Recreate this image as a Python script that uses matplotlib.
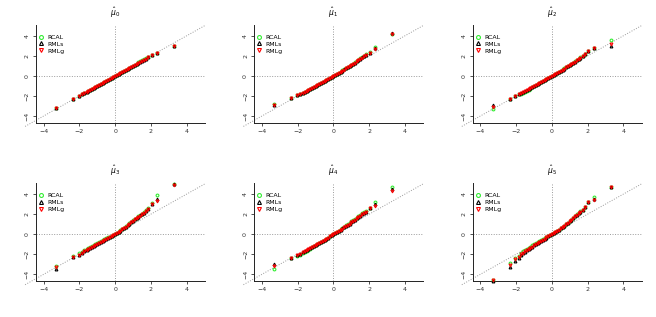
import matplotlib
matplotlib.use("Agg")
import matplotlib.pyplot as plt
import matplotlib.transforms as mtrans

# ---- data ----
x_quant = [-3.3, -2.35, -2.05, -1.85, -1.72, -1.6, -1.5, -1.4, -1.3, -1.2, -1.1, -1.0,
           -0.9, -0.8, -0.7, -0.6, -0.5, -0.4, -0.3, -0.2, -0.1, 0.0, 0.1, 0.2, 0.3, 0.4,
           0.5, 0.6, 0.7, 0.8, 0.9, 1.0, 1.1, 1.2, 1.3, 1.4, 1.5, 1.6, 1.72, 1.85, 2.05,
           2.35, 3.3]

titles = [r"$\hat{\mu}_0$", r"$\hat{\mu}_1$", r"$\hat{\mu}_2$",
          r"$\hat{\mu}_3$", r"$\hat{\mu}_4$", r"$\hat{\mu}_5$"]
series_names = ["RCAL", "RMLs", "RMLg"]

rcal_0 = [-3.16, -2.26, -1.96, -1.79, -1.67, -1.56, -1.46, -1.37, -1.27, -1.17, -1.08, -0.98,
          -0.88, -0.78, -0.69, -0.59, -0.49, -0.39, -0.29, -0.19, -0.10, 0.00, 0.10, 0.20, 0.30, 0.40,
          0.50, 0.61, 0.71, 0.81, 0.92, 1.02, 1.12, 1.23, 1.34, 1.45, 1.55, 1.65, 1.77, 1.88, 2.08,
          2.33, 3.02]
rmls_0 = [-3.19, -2.28, -1.97, -1.80, -1.68, -1.57, -1.47, -1.38, -1.28, -1.18, -1.08, -0.98,
          -0.88, -0.78, -0.69, -0.59, -0.49, -0.39, -0.29, -0.19, -0.10, 0.00, 0.10, 0.19, 0.29, 0.39,
          0.49, 0.59, 0.69, 0.79, 0.89, 0.99, 1.09, 1.19, 1.30, 1.40, 1.50, 1.60, 1.72, 1.85, 2.06,
          2.32, 3.00]
rmlg_0 = [-3.18, -2.27, -1.97, -1.80, -1.68, -1.57, -1.47, -1.38, -1.28, -1.18, -1.08, -0.98,
          -0.88, -0.78, -0.69, -0.59, -0.49, -0.39, -0.29, -0.19, -0.10, 0.00, 0.10, 0.19, 0.29, 0.39,
          0.49, 0.59, 0.69, 0.79, 0.89, 0.99, 1.09, 1.19, 1.29, 1.39, 1.49, 1.59, 1.71, 1.84, 2.05,
          2.31, 2.99]

rcal_1 = [-2.85, -2.18, -1.92, -1.79, -1.69, -1.60, -1.50, -1.41, -1.31, -1.21, -1.11, -1.01,
          -0.91, -0.81, -0.71, -0.61, -0.51, -0.41, -0.31, -0.21, -0.11, 0.00, 0.11, 0.22, 0.32, 0.43,
          0.54, 0.65, 0.76, 0.88, 0.99, 1.11, 1.23, 1.36, 1.49, 1.62, 1.75, 1.89, 2.03, 2.18, 2.38,
          2.92, 4.22]
rmls_1 = [-2.88, -2.20, -1.93, -1.80, -1.70, -1.60, -1.50, -1.41, -1.31, -1.21, -1.11, -1.01,
          -0.91, -0.81, -0.71, -0.61, -0.51, -0.41, -0.31, -0.21, -0.11, 0.00, 0.10, 0.21, 0.31, 0.42,
          0.53, 0.64, 0.75, 0.86, 0.97, 1.08, 1.20, 1.32, 1.45, 1.58, 1.71, 1.84, 1.98, 2.13, 2.33,
          2.78, 4.24]
rmlg_1 = [-2.87, -2.20, -1.93, -1.80, -1.70, -1.60, -1.50, -1.41, -1.31, -1.21, -1.11, -1.01,
          -0.91, -0.81, -0.71, -0.61, -0.51, -0.41, -0.31, -0.21, -0.11, 0.00, 0.10, 0.21, 0.31, 0.42,
          0.52, 0.63, 0.74, 0.85, 0.96, 1.07, 1.19, 1.31, 1.44, 1.57, 1.70, 1.83, 1.97, 2.12, 2.32,
          2.73, 4.20]

rcal_2 = [-3.27, -2.32, -2.02, -1.85, -1.76, -1.66, -1.56, -1.46, -1.36, -1.26, -1.15, -1.05,
          -0.94, -0.84, -0.73, -0.63, -0.52, -0.42, -0.31, -0.21, -0.10, 0.00, 0.10, 0.21, 0.31, 0.42,
          0.53, 0.64, 0.75, 0.86, 0.97, 1.09, 1.21, 1.33, 1.46, 1.59, 1.72, 1.86, 2.02, 2.22, 2.49,
          2.82, 3.58]
rmls_2 = [-2.93, -2.28, -1.99, -1.80, -1.70, -1.60, -1.50, -1.41, -1.31, -1.21, -1.11, -1.01,
          -0.91, -0.81, -0.71, -0.61, -0.51, -0.41, -0.31, -0.21, -0.10, 0.00, 0.10, 0.20, 0.31, 0.41,
          0.52, 0.62, 0.73, 0.84, 0.95, 1.06, 1.17, 1.29, 1.41, 1.54, 1.67, 1.80, 1.96, 2.18, 2.45,
          2.78, 3.00]
rmlg_2 = [-3.10, -2.30, -2.00, -1.80, -1.71, -1.61, -1.51, -1.42, -1.32, -1.22, -1.12, -1.02,
          -0.92, -0.82, -0.72, -0.61, -0.51, -0.41, -0.31, -0.21, -0.10, 0.00, 0.10, 0.20, 0.31, 0.41,
          0.52, 0.62, 0.73, 0.84, 0.95, 1.06, 1.17, 1.29, 1.41, 1.54, 1.67, 1.80, 1.96, 2.18, 2.46,
          2.80, 3.14]

rcal_3 = [-3.13, -2.22, -1.90, -1.80, -1.60, -1.49, -1.39, -1.29, -1.19, -1.08, -0.98, -0.88,
          -0.79, -0.69, -0.59, -0.50, -0.41, -0.32, -0.24, -0.16, -0.07, 0.02, 0.12, 0.24, 0.37, 0.51,
          0.65, 0.79, 0.94, 1.09, 1.24, 1.39, 1.53, 1.66, 1.79, 1.92, 2.05, 2.19, 2.38, 2.58, 3.13,
          3.90, 5.02]
rmls_3 = [-3.47, -2.29, -2.05, -1.88, -1.68, -1.57, -1.47, -1.37, -1.27, -1.16, -1.06, -0.96,
          -0.86, -0.76, -0.66, -0.56, -0.47, -0.37, -0.28, -0.19, -0.09, 0.01, 0.11, 0.23, 0.36, 0.49,
          0.62, 0.76, 0.90, 1.05, 1.20, 1.35, 1.48, 1.61, 1.74, 1.87, 2.00, 2.14, 2.33, 2.53, 3.05,
          3.53, 5.00]
rmlg_3 = [-3.27, -2.27, -2.03, -1.87, -1.67, -1.56, -1.46, -1.36, -1.26, -1.15, -1.05, -0.95,
          -0.85, -0.75, -0.65, -0.55, -0.46, -0.37, -0.28, -0.19, -0.09, 0.01, 0.11, 0.23, 0.36, 0.49,
          0.62, 0.76, 0.90, 1.05, 1.20, 1.35, 1.48, 1.60, 1.73, 1.86, 1.99, 2.13, 2.32, 2.52, 2.97,
          3.33, 4.87]

rcal_4 = [-3.43, -2.36, -2.14, -2.06, -1.88, -1.76, -1.65, -1.54, -1.43, -1.32, -1.21, -1.10,
          -0.99, -0.88, -0.78, -0.67, -0.56, -0.45, -0.34, -0.22, -0.11, 0.00, 0.12, 0.24, 0.36, 0.49,
          0.62, 0.75, 0.88, 1.01, 1.14, 1.27, 1.40, 1.53, 1.66, 1.80, 1.94, 2.08, 2.21, 2.33, 2.62,
          3.23, 4.73]
rmls_4 = [-3.00, -2.33, -2.10, -2.00, -1.81, -1.69, -1.58, -1.48, -1.38, -1.28, -1.17, -1.07,
          -0.97, -0.87, -0.77, -0.66, -0.55, -0.44, -0.33, -0.22, -0.11, 0.00, 0.11, 0.22, 0.34, 0.45,
          0.57, 0.69, 0.81, 0.94, 1.06, 1.19, 1.32, 1.45, 1.58, 1.72, 1.86, 2.00, 2.13, 2.24, 2.58,
          2.97, 4.47]
rmlg_4 = [-3.20, -2.33, -2.10, -2.00, -1.80, -1.68, -1.57, -1.47, -1.37, -1.27, -1.16, -1.06,
          -0.96, -0.86, -0.76, -0.66, -0.55, -0.44, -0.33, -0.22, -0.11, 0.00, 0.11, 0.22, 0.33, 0.45,
          0.56, 0.68, 0.80, 0.93, 1.05, 1.18, 1.31, 1.44, 1.57, 1.71, 1.85, 1.99, 2.12, 2.22, 2.57,
          2.83, 4.33]

rcal_5 = [-4.60, -2.87, -2.37, -2.20, -1.92, -1.72, -1.59, -1.47, -1.35, -1.23, -1.12, -1.01,
          -0.91, -0.81, -0.71, -0.61, -0.51, -0.41, -0.31, -0.21, -0.10, 0.00, 0.11, 0.22, 0.34, 0.46,
          0.59, 0.72, 0.85, 0.99, 1.14, 1.30, 1.46, 1.63, 1.80, 1.97, 2.12, 2.27, 2.45, 2.75, 3.23,
          3.67, 4.72]
rmls_5 = [-4.64, -3.27, -2.67, -2.40, -2.08, -1.86, -1.73, -1.61, -1.49, -1.37, -1.24, -1.12,
          -1.01, -0.89, -0.77, -0.66, -0.55, -0.44, -0.33, -0.22, -0.11, 0.00, 0.11, 0.22, 0.34, 0.46,
          0.58, 0.70, 0.83, 0.97, 1.12, 1.28, 1.44, 1.61, 1.78, 1.95, 2.10, 2.25, 2.42, 2.72, 3.20,
          3.50, 4.73]
rmlg_5 = [-4.62, -3.03, -2.50, -2.30, -2.02, -1.84, -1.71, -1.59, -1.47, -1.35, -1.23, -1.11,
          -1.00, -0.88, -0.76, -0.65, -0.54, -0.43, -0.32, -0.21, -0.11, 0.00, 0.11, 0.22, 0.34, 0.46,
          0.58, 0.70, 0.83, 0.97, 1.12, 1.28, 1.44, 1.61, 1.78, 1.95, 2.10, 2.25, 2.42, 2.70, 3.17,
          3.40, 4.73]

panels = [
    (rcal_0, rmls_0, rmlg_0), (rcal_1, rmls_1, rmlg_1), (rcal_2, rmls_2, rmlg_2),
    (rcal_3, rmls_3, rmlg_3), (rcal_4, rmls_4, rmlg_4), (rcal_5, rmls_5, rmlg_5),
]
tick_vals = [-4, -2, 0, 2, 4]

# ---- figure ----
W, H = 656, 317
fig = plt.figure(figsize=(W / 100, H / 100), dpi=100)

lefts = [36, 254.3, 472.7]
tops = [25, 183.3]
aw, ah = 169, 97.5

styles = [
    dict(marker="o", color="#33ee33", label="RCAL"),
    dict(marker="^", color="black", label="RMLs"),
    dict(marker="v", color="#ff0000", label="RMLg"),
]

for i, (ys, title) in enumerate(zip(panels, titles)):
    r, c = divmod(i, 3)
    l = lefts[c] / W
    b = (H - tops[r] - ah) / H
    ax = fig.add_axes([l, b, aw / W, ah / H])
    ax.set_xlim(-4.43, 5.03)
    ax.set_ylim(-4.65, 5.08)

    # reference lines
    ax.plot([-5.04, 5.04], [-5.04, 5.04], ls=(0, (1, 1.6)), color="#9a9a9a", lw=0.7,
            clip_on=False, zorder=1)
    ax.axhline(0, ls=(0, (1, 1.6)), color="#9a9a9a", lw=0.7, zorder=1)
    ax.axvline(0, ls=(0, (1, 1.6)), color="#9a9a9a", lw=0.7, zorder=1)

    handles = []
    for yv, st in zip(ys, styles):
        h, = ax.plot(x_quant, yv, ls="none", marker=st["marker"], mfc="none",
                     mec=st["color"], ms=2.0, mew=0.8, label=st["label"], zorder=3,
                     clip_on=False)
        handles.append(h)

    for s in ["top", "right"]:
        ax.spines[s].set_visible(False)
    for s in ["left", "bottom"]:
        ax.spines[s].set_linewidth(0.7)
        ax.spines[s].set_color("#222222")
    ax.set_xticks(tick_vals)
    ax.set_yticks(tick_vals)
    ax.set_xticklabels([str(t).replace("-", "\u2212") for t in tick_vals])
    ax.set_yticklabels([str(t).replace("-", "\u2212") for t in tick_vals])
    ax.tick_params(length=2.5, width=0.6, pad=2, labelsize=4.5, colors="#333333")
    ax.tick_params(axis="y", labelrotation=90)
    for lab in ax.get_yticklabels():
        lab.set_va("center")

    trans = mtrans.blended_transform_factory(ax.transData, ax.transAxes)
    ax.annotate(title, xy=(0, 1), xycoords=trans, xytext=(0, 9),
                textcoords="offset points", ha="center", va="center", fontsize=5.5)

    leg = ax.legend(handles=handles, loc="upper left", bbox_to_anchor=(0.0, 0.93),
                    frameon=False, fontsize=4.5, handlelength=0.8, handletextpad=0.6,
                    labelspacing=0.25, borderpad=0.2, borderaxespad=0.2, markerscale=1.4)

fig.savefig("out.png", dpi=100)
